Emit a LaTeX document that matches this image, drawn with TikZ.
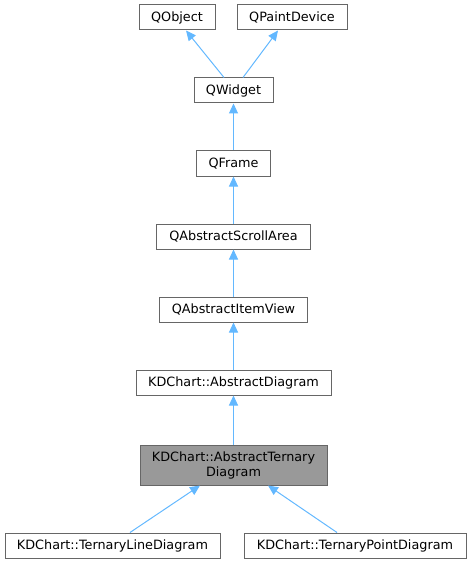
\documentclass[tikz,border=0pt]{standalone}
\usepackage{fontspec}
\setmainfont{DejaVu Sans}
\usetikzlibrary{arrows.meta}

\definecolor{edgeblue}{HTML}{63B8FF}
\definecolor{boxgray}{HTML}{666666}
\definecolor{hlgray}{HTML}{999999}

\tikzset{
  cls/.style={draw=boxgray, line width=1pt, fill=white, inner sep=0pt,
    font=\fontsize{12.8}{15}\selectfont, minimum height=25pt, align=center},
  clshl/.style={cls, fill=hlgray, minimum height=40pt},
  inherit/.style={draw=edgeblue, line width=1pt, {Triangle[length=10pt,width=9pt,fill=edgeblue]}-}
}

\begin{document}
\begin{tikzpicture}[x=1pt,y=-1pt]
      \useasboundingbox (0,0) rectangle (471,564);
    
      % classes
      \node[cls, minimum width=76pt]  (qobject) at (177,17.5) {QObject};
      \node[cls, minimum width=110pt] (qpaint)  at (292,17.5) {QPaintDevice};
      \node[cls, minimum width=79pt]  (qwidget) at (233.5,90.5) {QWidget};
      \node[cls, minimum width=74pt]  (qframe)  at (233.5,163.5) {QFrame};
      \node[cls, minimum width=154pt] (qscroll) at (233.5,236.5) {QAbstractScrollArea};
      \node[cls, minimum width=148pt] (qitem)   at (233.5,309.5) {QAbstractItemView};
      \node[cls, minimum width=195pt] (absdiag) at (233.5,382.5) {KDChart::AbstractDiagram};
      \node[clshl, minimum width=187pt] (ternary) at (233.5,465) {KDChart::AbstractTernary\\Diagram};
      \node[cls, minimum width=215pt] (linediag)  at (112.5,545.5) {KDChart::TernaryLineDiagram};
      \node[cls, minimum width=222pt] (pointdiag) at (355,545.5) {KDChart::TernaryPointDiagram};
    
      % inheritance
      \draw[inherit] ([xshift=9pt]qobject.south) -- ([xshift=-9.5pt]qwidget.north);
      \draw[inherit] ([xshift=-14pt]qpaint.south) -- ([xshift=9.5pt]qwidget.north);
      \draw[inherit] (qwidget.south) -- (qframe.north);
      \draw[inherit] (qframe.south) -- (qscroll.north);
      \draw[inherit] (qscroll.south) -- (qitem.north);
      \draw[inherit] (qitem.south) -- (absdiag.north);
      \draw[inherit] (absdiag.south) -- (ternary.north);
      \draw[inherit] ([xshift=-33.5pt]ternary.south) -- ([xshift=17.5pt]linediag.north);
      \draw[inherit] ([xshift=34.5pt]ternary.south) -- ([xshift=-18pt]pointdiag.north);
\end{tikzpicture}
\end{document}
